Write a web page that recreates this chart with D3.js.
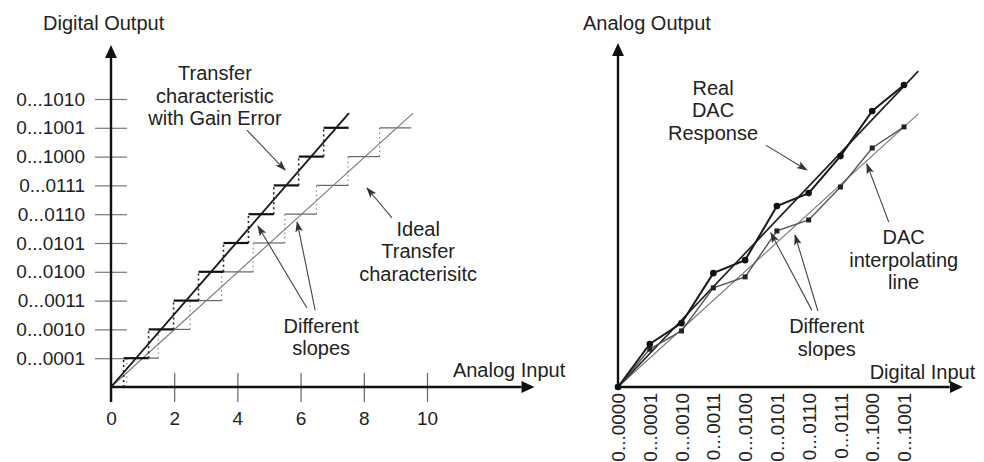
<!DOCTYPE html>
<html>
<head>
<meta charset="utf-8">
<script src="https://cdn.jsdelivr.net/npm/d3@7"></script>
<style>
  body { margin: 0; background: #fff; }
  text { font-family: "Liberation Sans", Arial, Helvetica, sans-serif; fill: #222; }
</style>
</head>
<body>
<svg id="chart"></svg>
<script>
const width = 984, height = 462;

// left panel - ADC transfer characteristic
const analogTicks = [0, 2, 4, 6, 8, 10];
const outputCodes = ["0...0001", "0...0010", "0...0011", "0...0100", "0...0101",
                     "0...0110", "0...0111", "0...1000", "0...1001", "0...1010"];
// x extent of each output code step (codes 1..9)
const idealSteps = [[0.5, 1.5], [1.5, 2.5], [2.5, 3.5], [3.5, 4.5], [4.5, 5.5],
                    [5.5, 6.5], [6.5, 7.5], [7.5, 8.5], [8.5, 9.5]];
const gainSteps = [[0.40, 1.19], [1.19, 1.98], [1.98, 2.77], [2.77, 3.56], [3.56, 4.35],
                   [4.35, 5.15], [5.15, 5.94], [5.94, 6.73], [6.73, 7.52]];
const idealLine = [[0, 0], [9.56, 9.51]];
const gainLine = [[0, 0], [7.53, 9.51]];

// right panel - DAC response
const inputCodes = ["0...0000", "0...0001", "0...0010", "0...0011", "0...0100",
                    "0...0101", "0...0110", "0...0111", "0...1000", "0...1001"];
const realResponse = [0, 1.49, 2.21, 3.94, 4.39, 6.26, 6.71, 7.99, 9.55, 10.45];
const interpResponse = [0, 1.31, 1.94, 3.43, 3.81, 5.40, 5.78, 6.92, 8.27, 9.00];
const realLine = [[0, 0], [9.45, 10.93]];
const interpLine = [[0, 0], [9.45, 9.45]];

const xL = d3.scaleLinear([0, 10], [111, 427]);
const yL = d3.scaleLinear([0, 10], [387, 99]);
const xR = d3.scaleLinear([0, 9], [618, 904]);
const yR = d3.scaleLinear([0, 10], [387, 98]);

const svg = d3.select("#chart")
    .attr("width", width)
    .attr("height", height)
    .attr("viewBox", [0, 0, width, height]);

const defs = svg.append("defs");
defs.append("marker")
    .attr("id", "axisHead")
    .attr("markerUnits", "userSpaceOnUse")
    .attr("viewBox", "0 -7 14 14")
    .attr("refX", 0).attr("refY", 0)
    .attr("markerWidth", 14).attr("markerHeight", 14)
    .attr("orient", "auto")
  .append("path")
    .attr("d", "M0,-6L13,0L0,6Z")
    .attr("fill", "#111");
defs.append("marker")
    .attr("id", "noteHead")
    .attr("markerUnits", "userSpaceOnUse")
    .attr("viewBox", "0 -5 11 10")
    .attr("refX", 10).attr("refY", 0)
    .attr("markerWidth", 11).attr("markerHeight", 10)
    .attr("orient", "auto")
  .append("path")
    .attr("d", "M0,-3.8L11,0L0,3.8L2.5,0Z")
    .attr("fill", "#333");

const line = (x, y) => d3.line(d => x(d[0]), d => y(d[1]));

function note(x, y, lines) {
  svg.append("text")
      .attr("text-anchor", "middle")
      .style("font-size", "20px")
    .selectAll("tspan")
    .data(lines)
    .join("tspan")
      .attr("x", x)
      .attr("y", (d, i) => y + i * 22.5)
      .attr("dy", "0.35em")
      .text(d => d);
}

function arrow(x1, y1, x2, y2) {
  svg.append("line")
      .attr("x1", x1).attr("y1", y1)
      .attr("x2", x2).attr("y2", y2)
      .attr("stroke", "#444")
      .attr("stroke-width", 1.1)
      .attr("marker-end", "url(#noteHead)");
}

// ---------- left panel ----------
svg.append("g")
    .attr("transform", `translate(0,${yL(0)})`)
    .call(d3.axisBottom(xL).tickValues(analogTicks).tickFormat(d3.format("d")))
    .call(g => g.select(".domain").remove())
    .call(g => g.selectAll(".tick line")
        .attr("y1", -14).attr("y2", 15)
        .attr("stroke", "#666").attr("stroke-width", 1.2))
    .call(g => g.selectAll(".tick text")
        .attr("y", 25).attr("fill", "#222")
        .style("font-size", "19px").style("font-family", null));

svg.append("g")
    .attr("transform", `translate(${xL(0)},0)`)
    .call(d3.axisLeft(yL).tickValues(d3.range(1, 11)).tickFormat(d => outputCodes[d - 1]))
    .call(g => g.select(".domain").remove())
    .call(g => g.selectAll(".tick line")
        .attr("x1", -16).attr("x2", 16)
        .attr("stroke", "#777").attr("stroke-width", 1.2))
    .call(g => g.selectAll(".tick text")
        .attr("x", -26).attr("fill", "#222")
        .style("font-size", "19px").style("font-family", null));

// ideal staircase
svg.append("g")
    .attr("stroke", "#8a8a8a").attr("stroke-width", 1.2).attr("stroke-dasharray", "1.5,3")
  .selectAll("line")
  .data(idealSteps)
  .join("line")
    .attr("x1", d => xL(d[0])).attr("x2", d => xL(d[0]))
    .attr("y1", (d, i) => yL(i)).attr("y2", (d, i) => yL(i + 1));
svg.append("g")
    .attr("stroke", "#666").attr("stroke-width", 1.2)
  .selectAll("line")
  .data(idealSteps)
  .join("line")
    .attr("x1", d => xL(d[0])).attr("x2", d => xL(d[1]))
    .attr("y1", (d, i) => yL(i + 1)).attr("y2", (d, i) => yL(i + 1));
svg.append("path")
    .attr("d", line(xL, yL)(idealLine))
    .attr("fill", "none").attr("stroke", "#777").attr("stroke-width", 1.1);

// gain error staircase
svg.append("g")
    .attr("stroke", "#222").attr("stroke-width", 1.6).attr("stroke-dasharray", "2,3")
  .selectAll("line")
  .data(gainSteps)
  .join("line")
    .attr("x1", d => xL(d[0])).attr("x2", d => xL(d[0]))
    .attr("y1", (d, i) => yL(i)).attr("y2", (d, i) => yL(i + 1));
svg.append("g")
    .attr("stroke", "#111").attr("stroke-width", 2.2)
  .selectAll("line")
  .data(gainSteps)
  .join("line")
    .attr("x1", d => xL(d[0])).attr("x2", d => xL(d[1]))
    .attr("y1", (d, i) => yL(i + 1)).attr("y2", (d, i) => yL(i + 1));
svg.append("path")
    .attr("d", line(xL, yL)(gainLine))
    .attr("fill", "none").attr("stroke", "#1a1a1a").attr("stroke-width", 1.9);

// left axes with arrow heads
svg.append("line")
    .attr("x1", xL(0)).attr("y1", yL(-0.52))
    .attr("x2", xL(0)).attr("y2", yL(11.42))
    .attr("stroke", "#111").attr("stroke-width", 2.4)
    .attr("marker-end", "url(#axisHead)");
svg.append("line")
    .attr("x1", xL(0)).attr("y1", yL(0))
    .attr("x2", xL(12.99)).attr("y2", yL(0))
    .attr("stroke", "#111").attr("stroke-width", 2.4)
    .attr("marker-end", "url(#axisHead)");

svg.append("text").attr("x", xL(-2.15)).attr("y", yL(12.64)).attr("dy", "0.35em")
    .style("font-size", "20px").text("Digital Output");
svg.append("text").attr("x", xL(10.82)).attr("y", yL(0.59)).attr("dy", "0.35em")
    .style("font-size", "20px").text("Analog Input");

note(xL(3.29), yL(10.9), ["Transfer", "characteristic", "with Gain Error"]);
arrow(xL(4.30), yL(8.92), xL(5.51), yL(7.53));
note(xL(9.72), yL(5.49), ["Ideal", "Transfer", "characterisitc"]);
arrow(xL(8.89), yL(5.87), xL(8.10), yL(6.91));
note(xL(6.65), yL(2.12), ["Different", "slopes"]);
arrow(xL(6.20), yL(2.74), xL(4.65), yL(5.59));
arrow(xL(6.46), yL(2.67), xL(5.89), yL(5.73));

// ---------- right panel ----------
svg.append("g")
    .attr("transform", `translate(0,${yR(0)})`)
    .call(d3.axisBottom(xR).tickValues(d3.range(10)).tickFormat(i => inputCodes[i]).tickSize(0))
    .call(g => g.select(".domain").remove())
    .call(g => g.selectAll(".tick text")
        .attr("transform", "rotate(-90)")
        .attr("x", -6).attr("y", 0).attr("dy", "0.35em")
        .attr("text-anchor", "end").attr("fill", "#222")
        .style("font-size", "19px").style("font-family", null));

svg.append("path")
    .attr("d", line(xR, yR)(interpLine))
    .attr("fill", "none").attr("stroke", "#777").attr("stroke-width", 1.1);
svg.append("path")
    .attr("d", line(xR, yR)(realLine))
    .attr("fill", "none").attr("stroke", "#222").attr("stroke-width", 1.7);

svg.append("path")
    .attr("d", d3.line((d, i) => xR(i), d => yR(d))(interpResponse))
    .attr("fill", "none").attr("stroke", "#555").attr("stroke-width", 1.4);
svg.append("path")
    .attr("d", d3.line((d, i) => xR(i), d => yR(d))(realResponse))
    .attr("fill", "none").attr("stroke", "#1a1a1a").attr("stroke-width", 2);

svg.append("g").attr("fill", "#222")
  .selectAll("rect")
  .data(interpResponse)
  .join("rect")
    .attr("x", (d, i) => xR(i) - 2.5).attr("y", d => yR(d) - 2.5)
    .attr("width", 5).attr("height", 5);
svg.append("g").attr("fill", "#111")
  .selectAll("circle")
  .data(realResponse)
  .join("circle")
    .attr("cx", (d, i) => xR(i)).attr("cy", d => yR(d))
    .attr("r", 3.3);

svg.append("line")
    .attr("x1", xR(0)).attr("y1", yR(0))
    .attr("x2", xR(0)).attr("y2", yR(11.45))
    .attr("stroke", "#111").attr("stroke-width", 2.4)
    .attr("marker-end", "url(#axisHead)");
svg.append("line")
    .attr("x1", xR(0)).attr("y1", yR(0))
    .attr("x2", xR(10.44)).attr("y2", yR(0))
    .attr("stroke", "#111").attr("stroke-width", 2.4)
    .attr("marker-end", "url(#axisHead)");

svg.append("text").attr("x", xR(-1.10)).attr("y", yR(12.6)).attr("dy", "0.35em")
    .style("font-size", "20px").text("Analog Output");
svg.append("text").attr("x", xR(7.92)).attr("y", yR(0.52)).attr("dy", "0.35em")
    .style("font-size", "20px").text("Digital Input");

note(xR(2.99), yR(10.35), ["Real", "DAC", "Response"]);
arrow(xR(4.65), yR(8.37), xR(5.94), yR(7.51));
note(xR(8.99), yR(5.19), ["DAC", "interpolating", "line"]);
arrow(xR(8.52), yR(5.71), xR(7.83), yR(7.72));
note(xR(6.57), yR(2.11), ["Different", "slopes"]);
arrow(xR(6.10), yR(2.66), xR(4.81), yR(5.33));
arrow(xR(6.29), yR(2.63), xR(5.57), yR(5.26));
</script>
</body>
</html>
